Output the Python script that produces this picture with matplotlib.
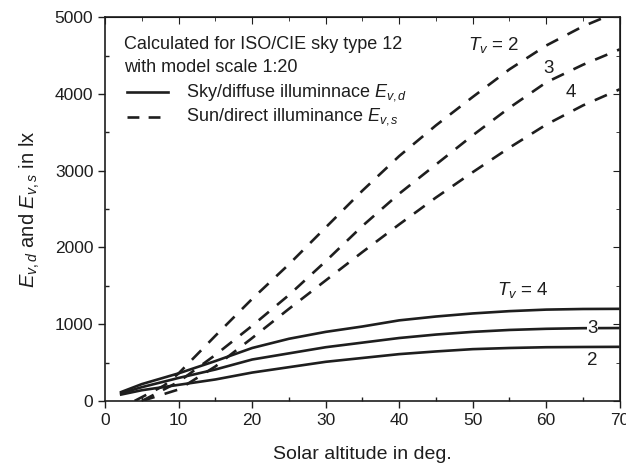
import numpy as np
import matplotlib.pyplot as plt

plt.rcParams['font.family'] = ['Liberation Sans', 'DejaVu Sans']
plt.rcParams['mathtext.fontset'] = 'custom'
plt.rcParams['mathtext.rm'] = 'Liberation Sans'
plt.rcParams['mathtext.it'] = 'Liberation Sans:italic'

# sky/diffuse illuminance (solid), by T_v
alt_d = [2, 5, 10, 15, 20, 25, 30, 35, 40, 45, 50, 55, 60, 65, 70]
diffuse_t2 = [80, 140, 210, 280, 370, 440, 510, 560, 610, 645, 675, 690, 700, 703, 705]
diffuse_t3 = [95, 180, 300, 410, 540, 620, 700, 760, 820, 865, 900, 925, 940, 948, 950]
diffuse_t4 = [110, 220, 360, 520, 690, 810, 900, 970, 1050, 1100, 1140, 1170, 1190, 1198, 1200]

# sun/direct illuminance (dashed), by T_v
alt_s2 = [4, 8, 10, 15, 20, 25, 30, 35, 40, 45, 50, 55, 60, 65, 68]
direct_t2 = [0, 200, 360, 850, 1330, 1780, 2260, 2740, 3190, 3590, 3960, 4320, 4630, 4880, 5000]
alt_s = [5, 10, 15, 20, 25, 30, 35, 40, 45, 50, 55, 60, 65, 70]
direct_t3 = [0, 250, 600, 980, 1380, 1820, 2280, 2700, 3080, 3460, 3820, 4150, 4380, 4580]
direct_t4 = [0, 150, 450, 820, 1200, 1570, 1940, 2300, 2650, 2980, 3300, 3600, 3850, 4060]

col = '#1e1e1e'
fig = plt.figure(figsize=(6.26, 4.63), dpi=100)
ax = fig.add_axes([0.168, 0.134, 0.822, 0.829])

for y in (diffuse_t2, diffuse_t3, diffuse_t4):
    ax.plot(alt_d, y, color=col, lw=1.9, solid_capstyle='butt')
ax.plot(alt_s2, direct_t2, color=col, lw=1.9, dashes=(5, 4))
for y in (direct_t3, direct_t4):
    ax.plot(alt_s, y, color=col, lw=1.9, dashes=(5, 4))

ax.set_xlim(0, 70)
ax.set_ylim(0, 5000)
ax.set_xticks(np.arange(0, 71, 10))
ax.set_xticks(np.arange(5, 70, 10), minor=True)
ax.set_yticks(np.arange(0, 5001, 1000))
ax.set_yticks(np.arange(500, 5000, 1000), minor=True)
ax.tick_params(which='major', direction='out', length=5, width=1, labelsize=12.5, colors=col)
ax.tick_params(which='minor', direction='in', length=3, width=1, colors=col)
for s in ax.spines.values():
    s.set_linewidth(1.2)
    s.set_color(col)

top = ax.secondary_xaxis('top')
top.set_xticks(np.arange(0, 71, 10))
top.set_xticks(np.arange(5, 70, 10), minor=True)
top.tick_params(which='both', direction='in', labeltop=False, colors=col)
top.tick_params(which='major', length=5)
top.tick_params(which='minor', length=3)
right = ax.secondary_yaxis('right')
right.set_yticks(np.arange(0, 5001, 1000))
right.set_yticks(np.arange(500, 5000, 1000), minor=True)
right.tick_params(which='both', direction='in', labelright=False, colors=col)
right.tick_params(which='major', length=5)
right.tick_params(which='minor', length=3)

ax.set_xlabel('Solar altitude in deg.', fontsize=14, color=col, labelpad=13)
ax.set_ylabel(r'$E_{v,d}$ and $E_{v,s}$ in lx', fontsize=14.5, color=col, labelpad=9)

# legend-like notes
ax.text(2.5, 4640, 'Calculated for ISO/CIE sky type 12', fontsize=13, color=col, va='center')
ax.text(2.5, 4340, 'with model scale 1:20', fontsize=13, color=col, va='center')
ax.plot([3.0, 8.6], [4020, 4020], color=col, lw=1.9)
ax.plot([3.0, 8.6], [3700, 3700], color=col, lw=1.9, dashes=(4.5, 3.5))
ax.text(11.0, 4020, r'Sky/diffuse illuminnace $E_{v,d}$', fontsize=13, color=col, va='center')
ax.text(11.0, 3700, r'Sun/direct illuminance $E_{v,s}$', fontsize=13, color=col, va='center')

# curve labels
ax.text(49.3, 4640, r'$T_v$ = 2', fontsize=13.5, color=col, va='center')
ax.text(60.3, 4330, '3', fontsize=13.5, color=col, va='center', ha='center')
ax.text(63.3, 4020, '4', fontsize=13.5, color=col, va='center', ha='center')
ax.text(53.3, 1440, r'$T_v$ = 4', fontsize=13.5, color=col, va='center')
ax.text(66.3, 940, '3', fontsize=13.5, color=col, va='center', ha='center',
        bbox=dict(facecolor='white', edgecolor='none', pad=0.5))
ax.text(66.3, 530, '2', fontsize=13.5, color=col, va='center', ha='center')

fig.savefig('out.png', dpi=100)
